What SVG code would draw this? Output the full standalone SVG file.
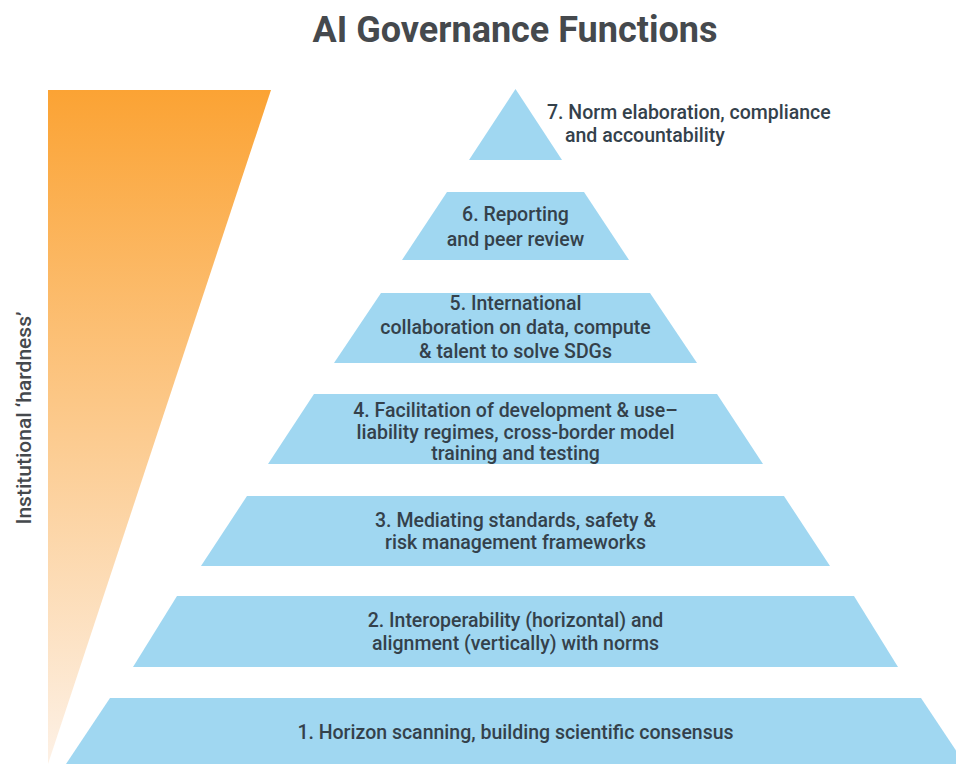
<svg xmlns="http://www.w3.org/2000/svg" width="956" height="764" viewBox="0 0 956 764">
<style>
.lvl{fill:#a0d7f1}
.lab{font-family:Roboto,"Liberation Sans",sans-serif;font-weight:500;font-size:19.5px;fill:#34414b;text-anchor:middle}
.title{font-family:Roboto,"Liberation Sans",sans-serif;font-weight:700;font-size:36px;fill:#45494d;text-anchor:middle}
.axis{font-family:Roboto,"Liberation Sans",sans-serif;font-weight:500;font-size:21px;fill:#45494d;text-anchor:middle}
</style>
<defs>
<linearGradient id="hard" x1="0" y1="0" x2="0" y2="1">
<stop offset="0" stop-color="#fba334"/>
<stop offset="1" stop-color="#fdf1e6"/>
</linearGradient>
</defs>
<rect width="956" height="764" fill="#ffffff"/>
<text class="title" x="515" y="42">AI Governance Functions</text>
<g id="hardness">
<polygon points="48,90 271,90 48,764" fill="url(#hard)"/>
<text class="axis" transform="translate(31,418) rotate(-90)">Institutional ‘hardness’</text>
</g>
<g id="level7">
<polygon class="lvl" points="515.5,89 469,160 562,160"/>
<text class="lab" style="text-anchor:start" x="547" y="119">7. Norm elaboration, compliance</text>
<text class="lab" style="text-anchor:start" x="565" y="142">and accountability</text>
</g>
<g id="level6">
<polygon class="lvl" points="447,192 584,192 629,260 402,260"/>
<text class="lab" x="515.5" y="221">6. Reporting</text>
<text class="lab" x="515.5" y="246">and peer review</text>
</g>
<g id="level5">
<polygon class="lvl" points="381,293 650,293 697,363 334,363"/>
<text class="lab" x="515.5" y="310">5. International</text>
<text class="lab" x="515.5" y="334">collaboration on data, compute</text>
<text class="lab" x="515.5" y="358">&amp; talent to solve SDGs</text>
</g>
<g id="level4">
<polygon class="lvl" points="314,394 717,394 763,464 268,464"/>
<text class="lab" x="515.5" y="417">4. Facilitation of development &amp; use–</text>
<text class="lab" x="515.5" y="439">liability regimes, cross-border model</text>
<text class="lab" x="515.5" y="460">training and testing</text>
</g>
<g id="level3">
<polygon class="lvl" points="247,496 784,496 830,566 201,566"/>
<text class="lab" x="515.5" y="527">3. Mediating standards, safety &amp;</text>
<text class="lab" x="515.5" y="549">risk management frameworks</text>
</g>
<g id="level2">
<polygon class="lvl" points="177,596 854,596 898,667 133,667"/>
<text class="lab" x="515.5" y="627">2. Interoperability (horizontal) and</text>
<text class="lab" x="515.5" y="650">alignment (vertically) with norms</text>
</g>
<g id="level1">
<polygon class="lvl" points="110,698 921,698 965,764 66,764"/>
<text class="lab" x="515.5" y="739">1. Horizon scanning, building scientific consensus</text>
</g>
<g id="connectors"/>
</svg>
